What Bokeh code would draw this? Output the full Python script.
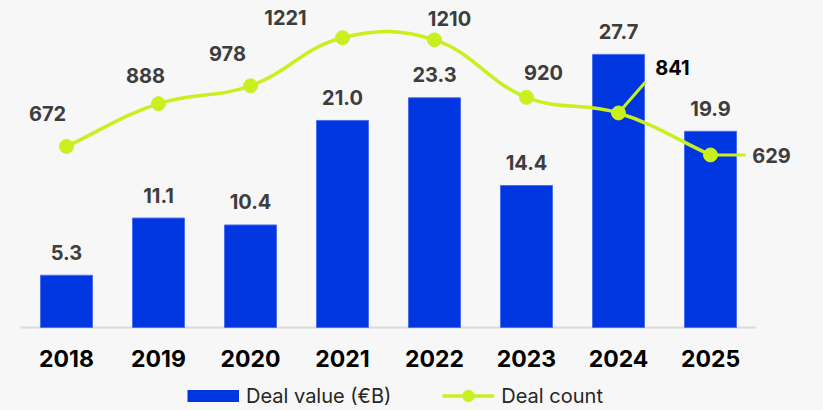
from bokeh.plotting import figure
from bokeh.models import Range1d, Legend, LegendItem, ColumnDataSource
from bokeh.core.properties import value
from bokeh.embed import file_html
from bokeh.resources import INLINE

# ---- data ----
years = ["2018", "2019", "2020", "2021", "2022", "2023", "2024", "2025"]
deal_value = [5.3, 11.1, 10.4, 21.0, 23.3, 14.4, 27.7, 19.9]
deal_count = [672, 888, 978, 1221, 1210, 920, 841, 629]

# label placement (screen px offsets of count labels from their points)
count_label_dx = [-19, -13, -23, -57, 15, 17, 54, 61]
count_label_dy = [-33, -28, -32, -20, -21, -25, -45, 1]
count_label_color = ["#3d3d3d"] * 6 + ["#000000", "#3d3d3d"]

# ---- styling / layout ----
W, H = 823, 410
PX_PER_CAT = 92.0
CAT0_PX = 66.0           # x of first category centre
BASE_PX = 327.0          # y of bar baseline
BAR_PX_PER_UNIT = 9.86
CNT_ZERO_PX = 279.0      # y of count zero
CNT_PX_PER_UNIT = 0.198
BG = "#f7f7f7"
BLUE = "#0036e0"
LIME = "#c8f01e"
FONT = "Inter"

x_start = -CAT0_PX / PX_PER_CAT
x_end = x_start + W / PX_PER_CAT
yb_start = -(H - BASE_PX) / BAR_PX_PER_UNIT
yb_end = BASE_PX / BAR_PX_PER_UNIT
yc_start = -(H - CNT_ZERO_PX) / CNT_PX_PER_UNIT
yc_end = CNT_ZERO_PX / CNT_PX_PER_UNIT

xs = list(range(len(years)))

p = figure(width=W, height=H, output_backend="svg", toolbar_location=None,
           x_range=Range1d(x_start, x_end), y_range=Range1d(yb_start, yb_end),
           min_border=0)
p.extra_y_ranges = {"cnt": Range1d(yc_start, yc_end)}
p.background_fill_color = BG
p.border_fill_color = BG
p.outline_line_color = None
p.grid.visible = False
p.axis.visible = False

# baseline
p.segment(x0=[-0.5], y0=[0], x1=[len(years) - 0.5], y1=[0],
          line_color="#dcdcdc", line_width=2)

# category labels
p.text(x=xs, y=[0] * len(xs), text=years, y_offset=31,
       text_align="center", text_baseline="middle",
       text_font=value(FONT), text_font_style="bold",
       text_font_size="23px", text_color="#000000")

# bars
src = ColumnDataSource(dict(x=xs, v=deal_value,
                            lbl=[f"{v:.1f}" for v in deal_value]))
bars = p.vbar(x="x", top="v", width=52 / PX_PER_CAT, source=src,
              fill_color=BLUE, line_color="#4a6ff2", line_width=1)
p.text(x="x", y="v", text="lbl", source=src, y_offset=-23,
       text_align="center", text_baseline="middle",
       text_font=value(FONT), text_font_style="bold",
       text_font_size="20px", text_color="#3d3d3d")

# smooth line (distance-weighted cardinal spline in screen space, tension 0.4)
def to_px(x, y):
    return ((x - x_start) * PX_PER_CAT, (y - yc_start) * CNT_PX_PER_UNIT)

def to_data(px, py):
    return (px / PX_PER_CAT + x_start, py / CNT_PX_PER_UNIT + yc_start)

pts = [to_px(x, y) for x, y in zip(xs, deal_count)]
t = 0.4
prev_cp, next_cp = [], []
n = len(pts)
for i in range(n):
    cur = pts[i]
    prv = pts[i - 1] if i > 0 else cur
    nxt = pts[i + 1] if i < n - 1 else cur
    d01 = ((cur[0] - prv[0]) ** 2 + (cur[1] - prv[1]) ** 2) ** 0.5
    d12 = ((nxt[0] - cur[0]) ** 2 + (nxt[1] - cur[1]) ** 2) ** 0.5
    s01 = d01 / (d01 + d12)
    s12 = d12 / (d01 + d12)
    vx, vy = nxt[0] - prv[0], nxt[1] - prv[1]
    prev_cp.append(to_data(cur[0] - t * s01 * vx, cur[1] - t * s01 * vy))
    next_cp.append(to_data(cur[0] + t * s12 * vx, cur[1] + t * s12 * vy))

bz = dict(x0=xs[:-1], y0=deal_count[:-1], x1=xs[1:], y1=deal_count[1:],
          cx0=[c[0] for c in next_cp[:-1]], cy0=[c[1] for c in next_cp[:-1]],
          cx1=[c[0] for c in prev_cp[1:]], cy1=[c[1] for c in prev_cp[1:]])
p.bezier(source=ColumnDataSource(bz), x0="x0", y0="y0", x1="x1", y1="y1",
         cx0="cx0", cy0="cy0", cx1="cx1", cy1="cy1",
         line_color=LIME, line_width=3.5, y_range_name="cnt")

# label connector lines for the two labels pulled away from their points
conn_idx = [6, 7]
conn_dx = [27, 35]
conn_dy = [-31, 0]
p.segment(x0=[xs[i] for i in conn_idx], y0=[deal_count[i] for i in conn_idx],
          x1=[xs[i] + dx / PX_PER_CAT for i, dx in zip(conn_idx, conn_dx)],
          y1=[deal_count[i] - dy / CNT_PX_PER_UNIT for i, dy in zip(conn_idx, conn_dy)],
          line_color=LIME, line_width=3, y_range_name="cnt")

csrc = ColumnDataSource(dict(x=xs, c=deal_count, lbl=[str(c) for c in deal_count],
                             dx=count_label_dx, dy=count_label_dy,
                             col=count_label_color))
p.scatter(x="x", y="c", source=csrc, size=14, fill_color=LIME, line_color=LIME,
          y_range_name="cnt")
p.text(x="x", y="c", text="lbl", source=csrc, x_offset="dx", y_offset="dy",
       text_align="center", text_baseline="middle",
       text_font=value(FONT), text_font_style="bold",
       text_font_size="20px", text_color="col", y_range_name="cnt")

# legend proxies (single NaN point, draw nothing in the plot area)
nan = float("nan")
lg_bar = p.line(x=[nan], y=[nan], line_color=BLUE, line_width=12)
lg_line = p.line(x=[nan], y=[nan], line_color=LIME, line_width=3.5)
lg_dot = p.scatter(x=[nan], y=[nan], fill_color=LIME, line_color=LIME)

leg = Legend(items=[LegendItem(label="Deal value (€B)", renderers=[lg_bar]),
                    LegendItem(label="Deal count", renderers=[lg_line, lg_dot])],
             location=(187, 0), orientation="horizontal",
             glyph_width=52, glyph_height=29, label_standoff=7, spacing=51,
             padding=0, margin=0, border_line_alpha=0, background_fill_alpha=0,
             label_text_font=FONT, label_text_font_size="20px",
             label_text_color="#262626")
p.add_layout(leg)

html = file_html(p, INLINE)
html = html.replace("</head>",
                    f"<style>html, body {{background: {BG};}}</style></head>", 1)
open("out.html", "w").write(html)
